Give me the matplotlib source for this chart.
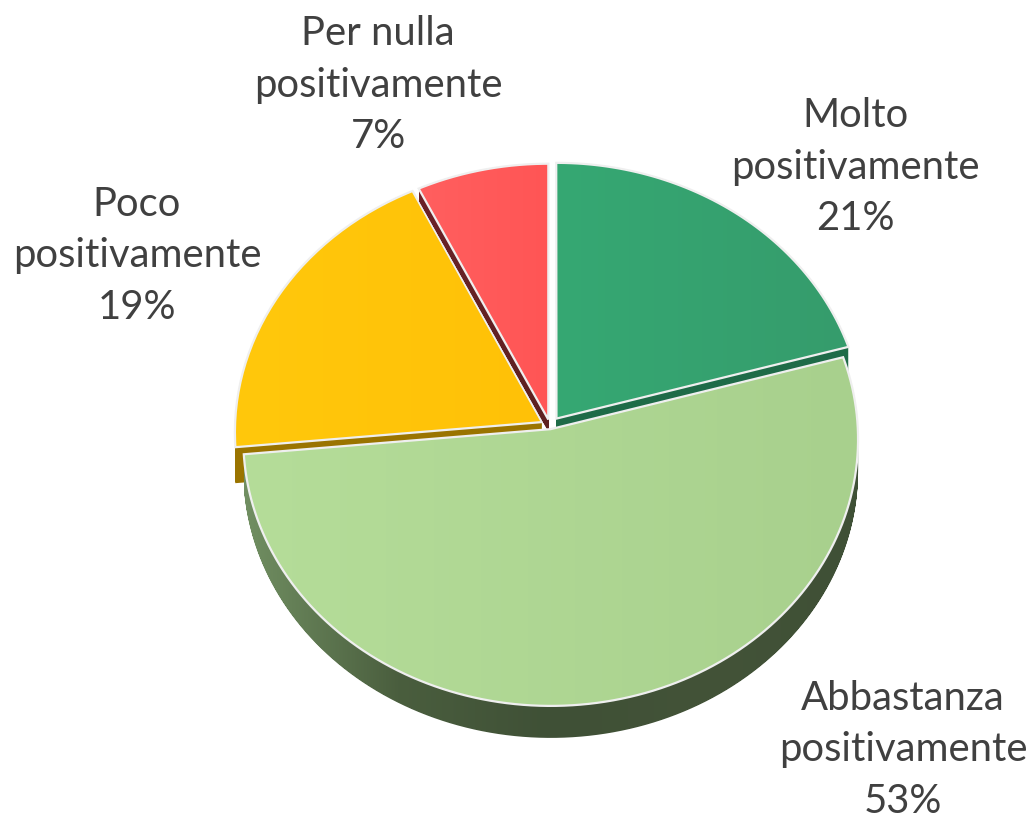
import numpy as np
import matplotlib
matplotlib.use("Agg")
import matplotlib.pyplot as plt
from matplotlib.path import Path
from matplotlib.transforms import Transform, Affine2D

W, H = 1032, 818

# dati
categorie = ["Molto", "Abbastanza", "Poco", "Per nulla"]
valori = [20.6, 52.9, 19.3, 7.2]
etichette = ["Molto\npositivamente\n21%", "Abbastanza\npositivamente\n53%",
             "Poco\npositivamente\n19%", "Per nulla\npositivamente\n7%"]
esplosione = [0.035, 0.012, 0.03, 0.025]

# colori: sinistra -> destra della faccia
col_faccia = [("#35a873", "#369c6c"), ("#b5dd99", "#a8d08d"), ("#ffc80c", "#ffc107"), ("#ff5f5f", "#ff5555")]
col_lato = [["#1f6b48", "#1f6b48"], ["#718f62", "#4a5e3e", "#3f5036", "#435338", "#3f5036"],
            ["#9a7400", "#9a7400"], ["#6b2228", "#5e2020"]]
prof_lato = [32, 32, 36, 12]
z_ordine = [6, 8, 2, 4]

# centro e raggi in pixel
cx, cy = 550, 426
rx, ry = 307, 266
k_persp = 0.038


class Prospettiva(Transform):
    # il fondo della torta e' piu' lontano: la parte alta si restringe
    input_dims = 2
    output_dims = 2

    def transform_non_affine(self, xy):
        xy = np.asarray(xy, dtype=float)
        d = 1 + k_persp * xy[:, 1]
        return np.column_stack([xy[:, 0] / d, xy[:, 1] / d])

    def transform_path_non_affine(self, path):
        # appiattisco le curve prima di proiettare, scala 1000 per avere segmenti fitti
        poli = path.transformed(Affine2D().scale(1000)).to_polygons()[0] / 1000
        return Path(self.transform_non_affine(poli), closed=True)


fig = plt.figure(figsize=(W / 100, H / 100), dpi=100)
ax = fig.add_axes([0, 0, 1, 1])
wedges, _ = ax.pie(valori, explode=esplosione, startangle=90, counterclock=False,
                   wedgeprops=dict(facecolor="none", edgecolor="#efefef", linewidth=1.6))

xlim = (-cx / rx, (W - cx) / rx)
ylim = (-(H - cy) / ry, cy / ry)
persp = Prospettiva()


def gradiente(colori):
    stops = np.array([matplotlib.colors.to_rgb(c) for c in colori])
    pos = np.linspace(0, 1, len(colori))
    t = np.linspace(0, 1, 256)
    return np.stack([np.interp(t, pos, stops[:, i]) for i in range(3)], axis=1)[None, :, :]


for w, facc, lato, prof, z in zip(wedges, col_faccia, col_lato, prof_lato, z_ordine):
    faccia = persp.transform_path_non_affine(w.get_path())
    v = faccia.vertices
    pezzi = [Path(v - [0, j / ry], faccia.codes) for j in range(0, prof + 1)]
    muro = Path.make_compound_path(*pezzi)
    xs = v[:, 0]
    # il gradiente del lato segue l'estensione della fetta
    im = ax.imshow(gradiente(lato), extent=[xs.min(), xs.max(), ylim[0], ylim[1]], aspect="auto", zorder=z)
    im.set_clip_path(muro, ax.transData)
    im2 = ax.imshow(gradiente(facc), extent=[xs.min(), xs.max(), ylim[0], ylim[1]], aspect="auto", zorder=z + 0.5)
    im2.set_clip_path(faccia, ax.transData)
    w.set_transform(persp + ax.transData)
    w.set_zorder(z + 0.7)

ax.set_aspect("auto")
ax.set_xlim(xlim)
ax.set_ylim(ylim)
ax.axis("off")

# posizione etichette (pixel)
pos_etichette = [(855, 167), (903, 750), (137, 256), (378, 85)]
for testo, (px, py) in zip(etichette, pos_etichette):
    ax.text((px - cx) / rx, (cy - py) / ry, testo, ha="center", va="center", fontsize=28.8,
            family="Lato", color="#404040", linespacing=1.475, zorder=20)

fig.savefig("out.png", dpi=100, facecolor="white")
